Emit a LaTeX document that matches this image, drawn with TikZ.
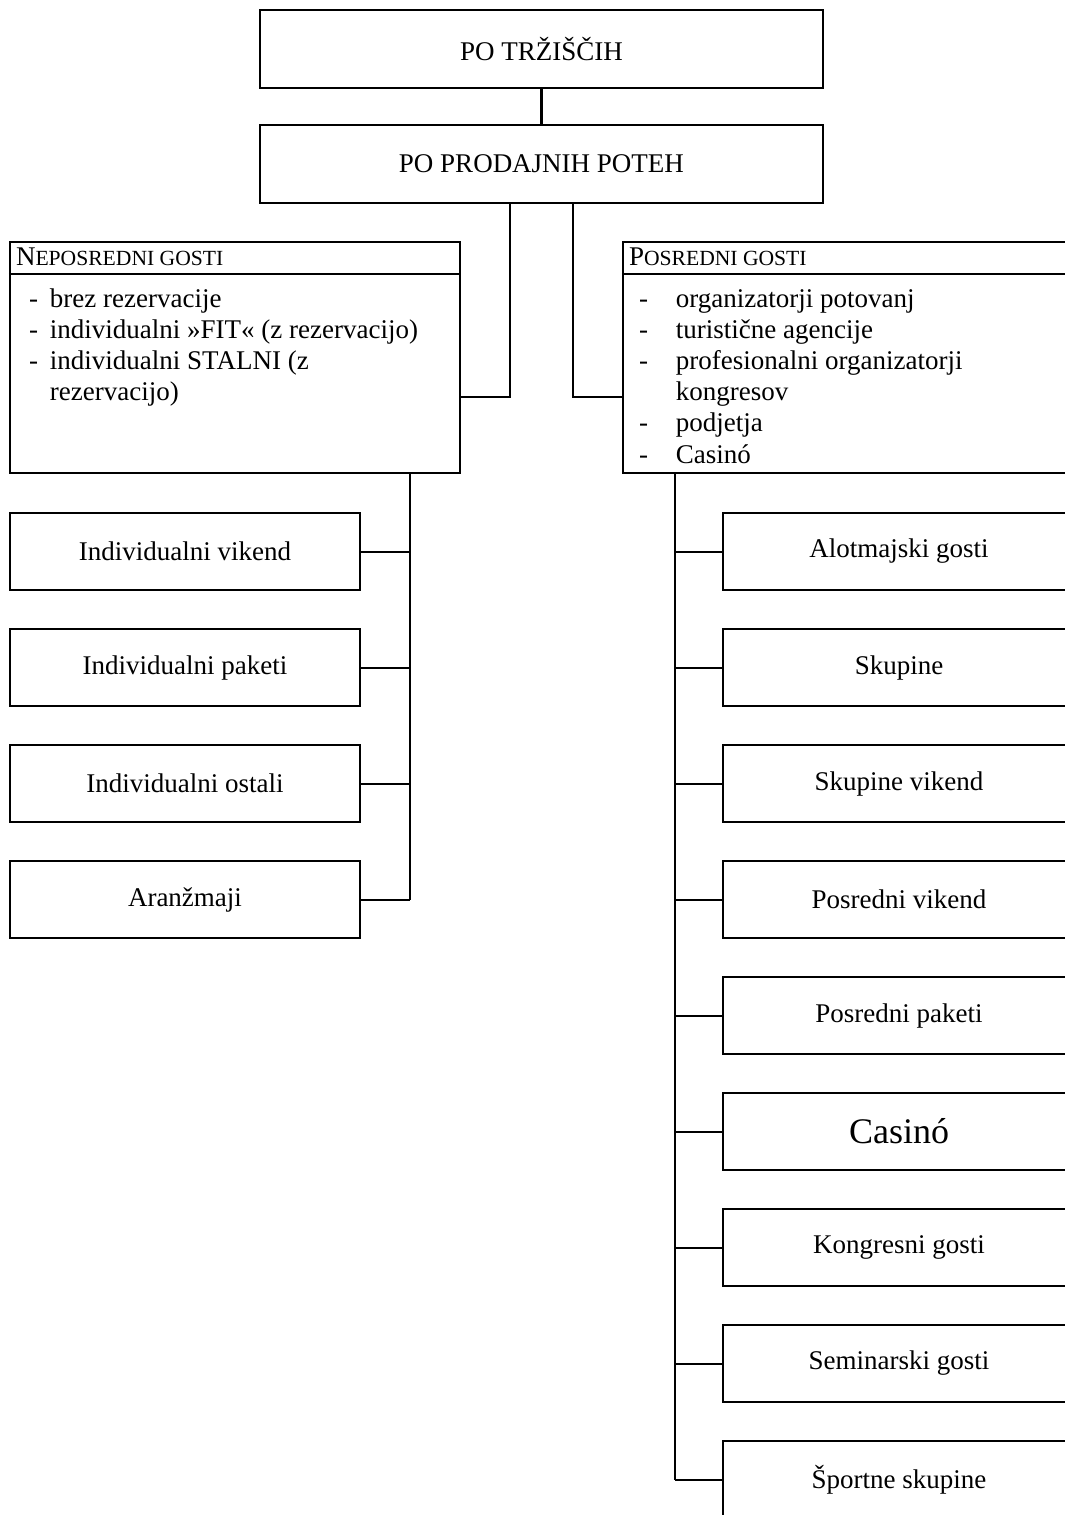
\documentclass[tikz,border=0pt]{standalone}
\usepackage{fontspec}
\setmainfont{Liberation Serif}
\usetikzlibrary{positioning}
\def\px{0.4444pt}
\newcommand{\smcap}[2]{{\fontsize{12}{13.8}\selectfont #1}{\fontsize{9.6}{11}\selectfont #2}}

\begin{document}
\begin{tikzpicture}[x=\px,y=-\px,line width=0.9pt,
    font=\fontsize{12}{13.8}\selectfont,
    headbox/.style={draw,minimum width=563*\px,minimum height=78*\px,inner sep=0pt},
    groupbox/.style={draw,minimum width=450*\px,minimum height=231*\px,inner sep=0pt},
    leafbox/.style={draw,minimum width=350*\px,minimum height=77*\px,inner sep=0pt},
    grouphead/.style={anchor=base west,inner sep=0pt},
    grouplist/.style={anchor=north west,inner sep=0pt}]
        \useasboundingbox (0,0) rectangle (1065,1515);
        \clip (0,0) rectangle (1065,1515);
        % Top levels
        \node[headbox] (trzisca) at (541.5,49) {PO TRŽIŠČIH};
        \node[headbox] (poti) at (541.5,164) {PO PRODAJNIH POTEH};
        \draw (trzisca) -- (poti);
        % Guest groups
        \node[groupbox] (neposredni) at (235,357.5) {};
        \node[groupbox,minimum width=452*\px] (posredni) at (849,357.5) {};
        \coordinate (hline) at (0,274);
        \draw (neposredni.west |- hline) -- (neposredni.east |- hline);
        \draw (posredni.west |- hline) -- (posredni.east |- hline);
        \node[grouphead] (nepos-h) at (15,265) {\smcap{N}{EPOSREDNI GOSTI}};
        \node[grouphead] (pos-h) at (628,265) {\smcap{P}{OSREDNI GOSTI}};
        \node[grouplist] (nepos-l) at (28,285) {%
          \begin{tabular}{@{}p{9.3pt}@{}l@{}}
            - & brez rezervacije\\
            - & individualni »FIT« (z rezervacijo)\\
            - & individualni STALNI (z\\
              & rezervacijo)
          \end{tabular}};
        \node[grouplist] (pos-l) at (638,285) {%
          \begin{tabular}{@{}p{16.4pt}@{}l@{}}
            - & organizatorji potovanj\\
            - & turistične agencije\\
            - & profesionalni organizatorji\\
              & kongresov\\
            - & podjetja\\
            - & Casinó
          \end{tabular}};
        % Connectors to the groups
        \coordinate (ljoin) at (510,397);
        \coordinate (rjoin) at (573,397);
        \draw (poti.south -| ljoin) -- (ljoin) -- (neposredni.east |- ljoin);
        \draw (poti.south -| rjoin) -- (rjoin) -- (posredni.west |- rjoin);
        % Direct guests
        \coordinate (lspine) at (410,0);
        \foreach \n/\t [count=\k from 0] in {ivik/Individualni vikend,ipak/Individualni paketi,iost/Individualni ostali,aran/Aranžmaji} {
          \node[leafbox] (\n) at (185,{551.5+116*\k}) {\t};
          \draw (\n.east) -- (\n.east -| lspine);
        }
        \draw (neposredni.south -| lspine) -- (aran.east -| lspine);
        % Indirect guests
        \coordinate (rspine) at (675,0);
        \foreach \n/\t [count=\k from 0] in {alot/Alotmajski gosti,skup/Skupine,skvik/Skupine vikend,pvik/Posredni vikend,ppak/Posredni paketi,casino/{\fontsize{16}{19}\selectfont Casinó},kong/Kongresni gosti,semi/Seminarski gosti,sport/Športne skupine} {
          \node[leafbox,minimum width=352*\px] (\n) at (899,{551.5+116*\k}) {\t};
          \draw (\n.west) -- (\n.west -| rspine);
        }
        \draw (posredni.south -| rspine) -- (sport.west -| rspine);
      \end{tikzpicture}
\end{document}
